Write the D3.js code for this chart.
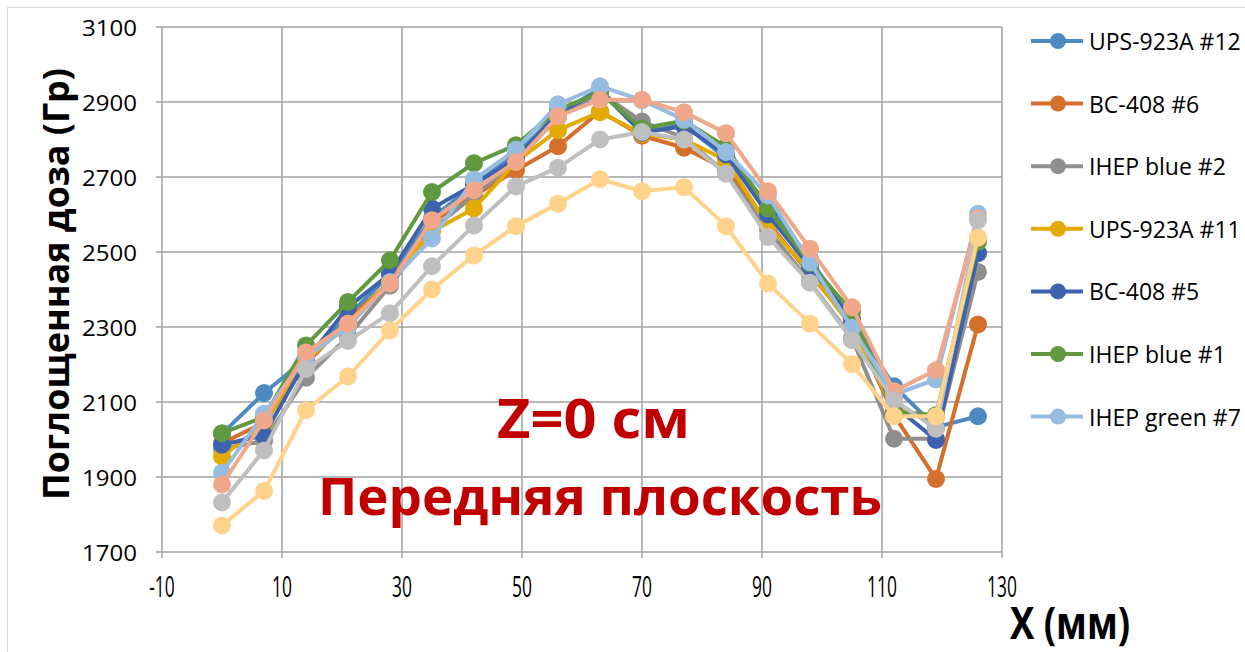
<!DOCTYPE html>
<html>
<head>
<meta charset="utf-8">
<script src="https://cdn.jsdelivr.net/npm/d3@7"></script>
<style>
  body { margin: 0; background: #fff; }
  text { font-family: "Open Sans", "Noto Sans", sans-serif; }
</style>
</head>
<body>
<script>
// Dose profile along X, front plane (Z=0)

const xValues = [0, 7, 14, 21, 28, 35, 42, 49, 56, 63, 70, 77, 84, 91, 98, 105, 112, 119, 126];

const ups12  = [2015, 2124, 2215, 2330, 2440, 2590, 2680, 2760, 2870, 2935, 2820, 2840, 2750, 2630, 2480, 2320, 2142, 2033, 2062];
const bc6    = [1990, 2045, 2200, 2320, 2420, 2580, 2650, 2718, 2782, 2875, 2810, 2778, 2720, 2580, 2440, 2310, 2065, 1895, 2307];
const ihepB2 = [1975, 1996, 2165, 2275, 2410, 2560, 2650, 2740, 2860, 2925, 2848, 2805, 2710, 2560, 2420, 2270, 2002, 2002, 2447];
const ups11  = [1955, 2040, 2210, 2310, 2420, 2555, 2616, 2740, 2825, 2873, 2815, 2800, 2745, 2571, 2447, 2300, 2080, 2060, 2538];
const bc5    = [1986, 2011, 2210, 2353, 2442, 2616, 2680, 2750, 2870, 2930, 2818, 2836, 2760, 2600, 2460, 2320, 2090, 1999, 2497];
const ihepB1 = [2017, 2060, 2251, 2367, 2478, 2660, 2737, 2785, 2880, 2925, 2830, 2850, 2780, 2616, 2470, 2340, 2075, 2065, 2527];
const ihepG7 = [1911, 2069, 2220, 2300, 2420, 2536, 2693, 2773, 2894, 2942, 2905, 2853, 2767, 2651, 2473, 2298, 2120, 2160, 2602];
const ser8   = [1880, 2051, 2232, 2309, 2416, 2585, 2665, 2740, 2862, 2906, 2906, 2873, 2817, 2662, 2509, 2353, 2129, 2185, 2590];
const ser9   = [1832, 1971, 2188, 2263, 2337, 2462, 2571, 2675, 2725, 2800, 2820, 2800, 2709, 2540, 2418, 2265, 2105, 2029, 2585];
const ser10  = [1771, 1863, 2078, 2168, 2291, 2400, 2491, 2569, 2629, 2694, 2662, 2673, 2569, 2416, 2309, 2201, 2062, 2062, 2538];

const seriesNames = ["UPS-923A #12", "BC-408 #6", "IHEP blue #2", "UPS-923A #11", "BC-408 #5",
                     "IHEP blue #1", "IHEP green #7", "Ряд8", "Ряд9", "Ряд10"];
const seriesValues = [ups12, bc6, ihepB2, ups11, bc5, ihepB1, ihepG7, ser8, ser9, ser10];
const seriesColors = ["#4E8AC2", "#D4702C", "#8F8F8F", "#E3AA00", "#3D63AE",
                      "#60993F", "#97BCE2", "#F0A78A", "#BFBFBF", "#FFD38B"];
const legendCount = 7;   // only the first seven fit in the legend box

const xTicks = [-10, 10, 30, 50, 70, 90, 110, 130];
const yTicks = [1700, 1900, 2100, 2300, 2500, 2700, 2900, 3100];

const width = 1245, height = 652;
const plot = {left: 162, right: 1002, top: 27, bottom: 552};

const svg = d3.select("body").append("svg")
    .attr("width", width)
    .attr("height", height);

// outer chart border
svg.append("rect")
    .attr("x", 7.5).attr("y", 7.5)
    .attr("width", 1260).attr("height", 670)
    .attr("fill", "none")
    .attr("stroke", "#D9D9D9");

const x = d3.scaleLinear().domain([-10, 130]).range([plot.left, plot.right]);
const y = d3.scaleLinear().domain([1700, 3100]).range([plot.bottom, plot.top]);

const gridColor = "#A0A0A0";

// grid
svg.append("g").selectAll("line")
    .data(yTicks).enter().append("line")
    .attr("x1", plot.left - 6).attr("x2", plot.right)
    .attr("y1", d => y(d)).attr("y2", d => y(d))
    .attr("stroke", gridColor).attr("stroke-width", 1.5);

svg.append("g").selectAll("line")
    .data(xTicks).enter().append("line")
    .attr("x1", d => x(d)).attr("x2", d => x(d))
    .attr("y1", plot.top).attr("y2", plot.bottom + 6)
    .attr("stroke", gridColor).attr("stroke-width", 1.5);

// tick labels
svg.append("g").selectAll("text")
    .data(yTicks).enter().append("text")
    .attr("x", 137).attr("y", d => y(d) + 1)
    .attr("text-anchor", "end")
    .attr("dominant-baseline", "central")
    .attr("font-size", 21)
    .attr("textLength", 55)
    .attr("lengthAdjust", "spacingAndGlyphs")
    .attr("fill", "#000")
    .text(d => d);

svg.append("g").selectAll("text")
    .data(xTicks).enter().append("text")
    .attr("transform", d => "translate(" + x(d) + ",597) scale(0.6,1)")
    .attr("text-anchor", "middle")
    .attr("font-size", 29)
    .attr("fill", "#000")
    .text(d => d);

// axis titles
svg.append("text")
    .attr("transform", "translate(69,284) rotate(-90)")
    .attr("text-anchor", "middle")
    .attr("font-size", 36)
    .attr("font-weight", "bold")
    .attr("textLength", 432)
    .attr("lengthAdjust", "spacingAndGlyphs")
    .text("Поглощенная доза (Гр)");

svg.append("text")
    .attr("x", 1010).attr("y", 639)
    .attr("font-size", 44)
    .attr("font-weight", "bold")
    .attr("textLength", 120)
    .attr("lengthAdjust", "spacingAndGlyphs")
    .text("X (мм)");

// series
const line = d3.line()
    .x((d, i) => x(xValues[i]))
    .y(d => y(d));

const series = svg.append("g").selectAll("g")
    .data(seriesValues).enter().append("g");

series.append("path")
    .attr("d", d => line(d))
    .attr("fill", "none")
    .attr("stroke", (d, i) => seriesColors[i])
    .attr("stroke-width", 4)
    .attr("stroke-linejoin", "round");

series.each(function(vals, si) {
    d3.select(this).selectAll("circle")
        .data(vals).enter().append("circle")
        .attr("cx", (d, i) => x(xValues[i]))
        .attr("cy", d => y(d))
        .attr("r", 9)
        .attr("fill", seriesColors[si]);
});

// annotations
svg.append("text")
    .attr("x", 497).attr("y", 438)
    .attr("font-size", 53)
    .attr("font-weight", "bold")
    .attr("fill", "#C00000")
    .attr("textLength", 193)
    .attr("lengthAdjust", "spacingAndGlyphs")
    .text("Z=0 см");

svg.append("text")
    .attr("x", 318).attr("y", 515)
    .attr("font-size", 52)
    .attr("font-weight", "bold")
    .attr("fill", "#C00000")
    .attr("textLength", 564)
    .attr("lengthAdjust", "spacingAndGlyphs")
    .text("Передняя плоскость");

// legend
const legend = svg.append("g").selectAll("g")
    .data(seriesNames.slice(0, legendCount)).enter().append("g")
    .attr("transform", (d, i) => "translate(1031," + (41 + i * 62.6) + ")");

legend.append("line")
    .attr("x1", 0).attr("x2", 52)
    .attr("stroke", (d, i) => seriesColors[i])
    .attr("stroke-width", 4);

legend.append("circle")
    .attr("cx", 27).attr("r", 8)
    .attr("fill", (d, i) => seriesColors[i]);

legend.append("text")
    .attr("x", 58)
    .attr("dominant-baseline", "central")
    .attr("font-size", 23)
    .attr("fill", "#000")
    .text(d => d);
</script>
</body>
</html>
